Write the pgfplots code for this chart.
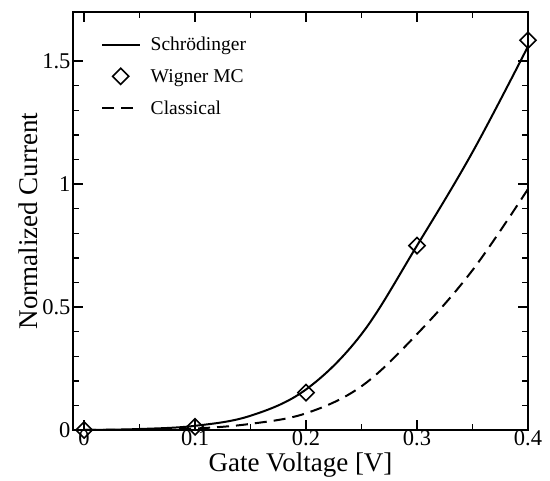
\documentclass[border=0pt]{standalone}
\usepackage{fontspec}
\setmainfont{Liberation Serif}
\usepackage{pgfplots}
\pgfplotsset{compat=1.18}

\begin{document}
\begin{tikzpicture}
\begin{axis}[
  scale only axis, width=455pt, height=418pt,
  xmin=-0.01, xmax=0.4, ymin=0, ymax=1.7,
  xtick={0,0.1,0.2,0.3,0.4}, ytick={0,0.5,1,1.5},
  minor x tick num=1, minor y tick num=4,
  tick align=inside, xtick pos=both, ytick pos=both,
  major tick length=10pt, minor tick length=6pt,
  every tick/.style={line width=1.4pt, black},
  axis line style={line width=1.8pt},
  /pgf/number format/assume math mode=true,
  /pgf/number format/fixed,
  tick label style={font=\fontsize{22.5}{24}\selectfont},
  label style={font=\fontsize{27}{30}\selectfont},
  xlabel={Gate Voltage [V]}, ylabel={Normalized Current},
  xlabel style={yshift=0pt}, ylabel style={yshift=-2pt},
  xticklabel style={yshift=3pt}, yticklabel style={xshift=1pt},
  clip=false,
  legend style={at={(0.055,0.95)}, anchor=north west, draw=none, fill=none,
    font=\fontsize{19.5}{22}\selectfont, row sep=13pt},
  legend cell align=left,
  legend image code/.code={\draw[mark repeat=2,mark phase=2] plot coordinates {(0cm,0cm) (0.65cm,0cm) (1.3cm,0cm)};
    \path (1.6cm,0cm);},
]
\addplot[black, line width=2pt, smooth, tension=0.6] coordinates {
  (0,0) (0.05,0.004) (0.1,0.017) (0.15,0.058) (0.2,0.165) (0.25,0.39) (0.3,0.75) (0.35,1.13) (0.4,1.56)};
\addlegendentry{Schrödinger}
\addplot[only marks, mark=square, mark size=5.7pt, mark options={rotate=45, line width=1.6pt, fill=white}] coordinates {
  (0,0) (0.1,0.013) (0.2,0.152) (0.3,0.75) (0.4,1.585)};
\addlegendentry{Wigner MC}
\addplot[black, line width=2pt, dash pattern=on 12pt off 7pt, smooth, tension=0.6] coordinates {
  (0,0) (0.05,0.001) (0.1,0.006) (0.15,0.025) (0.2,0.068) (0.25,0.178) (0.3,0.39) (0.35,0.65) (0.4,0.98)};
\addlegendentry{Classical}
\end{axis}
\path (current axis.south west) ++(-73pt,-50pt) rectangle ++(550pt,480pt);
\end{tikzpicture}
\end{document}
